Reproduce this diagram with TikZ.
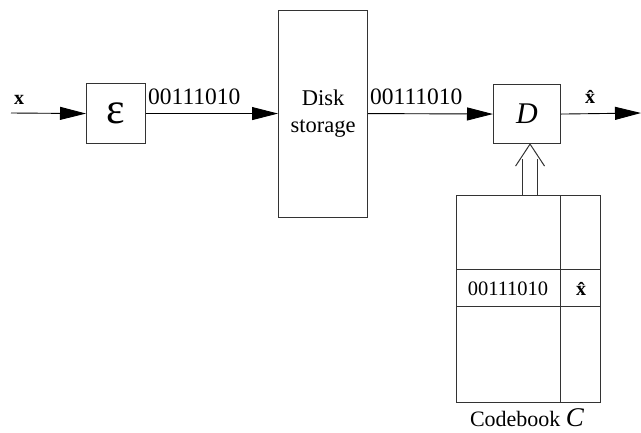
\documentclass[tikz,border=0pt]{standalone}
\usepackage{fontspec}
\setmainfont{Liberation Serif}
\usetikzlibrary{arrows.meta,calc}
\begin{document}
\begin{tikzpicture}[x=1pt,y=-1pt,
  blk/.style={draw=black!80,line width=1.1pt,inner sep=0pt,anchor=north west},
  flow/.style={line width=0.9pt,-{Triangle[length=26pt,width=13pt]}},
  lbl/.style={font=\fontsize{23.5}{26}\selectfont,inner sep=0pt},
  tbl/.style={draw=black!80,line width=1pt}]
\useasboundingbox (0,0) rectangle (641,432);
% blocks
\node[blk,minimum width=59pt,minimum height=60pt] (enc) at (86,83) {};
\node[font=\fontsize{44}{44}\selectfont] at (enc.center) {ε};
\node[blk,minimum width=89pt,minimum height=207pt] (disk) at (278,10) {};
\node[lbl,align=center,font=\fontsize{22.5}{27}\selectfont] at ($(disk.north)+(0,104)$) {Disk\\storage};
\node[blk,minimum width=67pt,minimum height=59pt] (dec) at (493,84) {};
\node[font=\fontsize{30}{30}\selectfont\itshape] at (dec.center) {D};
% codebook
\node[blk,minimum width=144pt,minimum height=207pt] (cb) at (456,195) {};
\coordinate (c1) at (560,195);
\coordinate (c2) at (560,402);
\draw[tbl] (c1) -- (c2);
\draw[tbl] (456,269) -- (600,269);
\draw[tbl] (456,306) -- (600,306);
\node[font=\fontsize{20.5}{22}\selectfont] (cw) at (508,289) {00111010};
\node[font=\fontsize{20}{22}\selectfont\bfseries] (cx) at (581,289) {\^{x}};
\node[font=\fontsize{22}{26}\selectfont,anchor=base] (cbl) at (527,426) {Codebook \fontsize{27}{27}\selectfont\itshape C};
% connectors
\coordinate (in) at (11,113);
\coordinate (out) at (641,113);
\draw[flow] (in) -- (enc.west);
\draw[flow] (enc.east) -- (enc.east -| disk.west);
\draw[flow] (enc.east -| disk.east) -- (dec.west);
\draw[flow] (dec.east) -- (out);
\node[font=\fontsize{20}{22}\selectfont\bfseries] (xin) at (19,100) {x};
\node[lbl,anchor=south west] (b1) at (148,105) {00111010};
\node[lbl,anchor=south west] (b2) at (370,105) {00111010};
\node[font=\fontsize{20}{22}\selectfont\bfseries] (xout) at (590,97) {\^{x}};
% double arrow from codebook to decoder
\coordinate (tip) at ($(dec.south)+(3,0)$);
\draw[line width=1pt,black!80] ($(tip)+(-7.5,51)$) -- ($(tip)+(-7.5,15)$);
\draw[line width=1pt,black!80] ($(tip)+(7.5,51)$) -- ($(tip)+(7.5,15)$);
\draw[line width=1pt,black!80] ($(tip)+(-14.5,22)$) -- (tip) -- ($(tip)+(14.5,22)$);
\end{tikzpicture}
\end{document}
